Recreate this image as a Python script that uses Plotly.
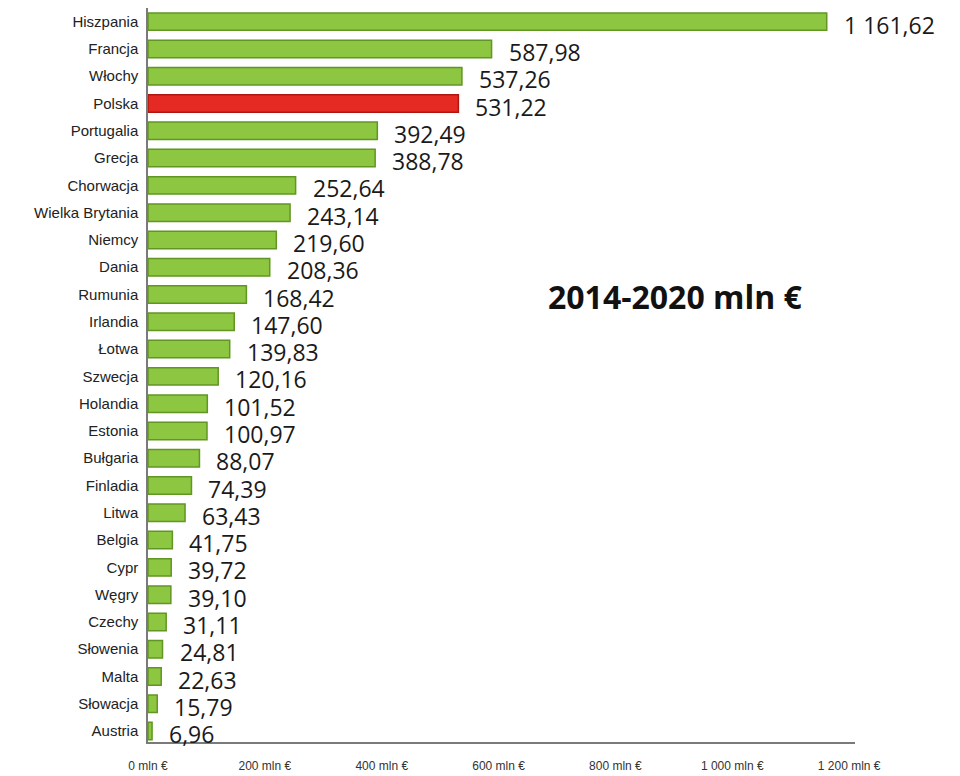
import plotly.graph_objects as go

countries = ["Hiszpania", "Francja", "Włochy", "Polska", "Portugalia", "Grecja",
             "Chorwacja", "Wielka Brytania", "Niemcy", "Dania", "Rumunia", "Irlandia",
             "Łotwa", "Szwecja", "Holandia", "Estonia", "Bułgaria", "Finladia",
             "Litwa", "Belgia", "Cypr", "Węgry", "Czechy", "Słowenia", "Malta",
             "Słowacja", "Austria"]
values = [1161.62, 587.98, 537.26, 531.22, 392.49, 388.78, 252.64, 243.14, 219.60,
          208.36, 168.42, 147.60, 139.83, 120.16, 101.52, 100.97, 88.07, 74.39,
          63.43, 41.75, 39.72, 39.10, 31.11, 24.81, 22.63, 15.79, 6.96]
value_labels = ["1 161,62", "587,98", "537,26", "531,22", "392,49", "388,78",
                "252,64", "243,14", "219,60", "208,36", "168,42", "147,60",
                "139,83", "120,16", "101,52", "100,97", "88,07", "74,39",
                "63,43", "41,75", "39,72", "39,10", "31,11", "24,81", "22,63",
                "15,79", "6,96"]
tick_vals = [0, 200, 400, 600, 800, 1000, 1200]
tick_text = ["0 mln €", "200 mln €", "400 mln €", "600 mln €", "800 mln €",
             "1 000 mln €", "1 200 mln €"]
highlight = "Polska"
period_label = "2014-2020 mln €"

colors = ["#E52A24" if c == highlight else "#8DC640" for c in countries]
line_colors = ["#B0160F" if c == highlight else "#619524" for c in countries]

fig = go.Figure()
fig.add_trace(go.Bar(
    x=values, y=countries, orientation="h",
    marker=dict(color=colors, line=dict(color=line_colors, width=1.5)),
    width=0.64, hoverinfo="skip", showlegend=False,
))

for c, v, lab in zip(countries, values, value_labels):
    fig.add_annotation(x=v, y=c, text=lab, xref="x", yref="y", showarrow=False,
                       xanchor="left", yanchor="middle", xshift=15, yshift=-3,
                       font=dict(family="Open Sans", size=23, color="#1a1a1a"))

fig.add_annotation(x=0.746, y=0.607, xref="paper", yref="paper", text="<b>" + period_label + "</b>",
                   showarrow=False, xanchor="center", yanchor="middle",
                   font=dict(family="Open Sans", size=32, color="#111111"))

n = len(countries)
fig.update_layout(
    width=960, height=776,
    margin=dict(l=140, r=113, t=0, b=42),
    paper_bgcolor="white", plot_bgcolor="white",
    xaxis=dict(range=[0, 1210], tickvals=tick_vals, ticktext=tick_text,
               showgrid=False, zeroline=False, showline=True, linecolor="#7a7a7a",
               linewidth=2, ticks="", ticklabelstandoff=12,
               tickfont=dict(family="Liberation Sans", size=12, color="#333333")),
    yaxis=dict(range=[n - 1 + 0.4, -0.5], showgrid=False, zeroline=False,
               showline=True, linecolor="#7a7a7a", linewidth=1.5, ticks="",
               ticklabelstandoff=5,
               tickfont=dict(family="Liberation Sans", size=15, color="#222222")),
)

fig.write_html("out.html")
